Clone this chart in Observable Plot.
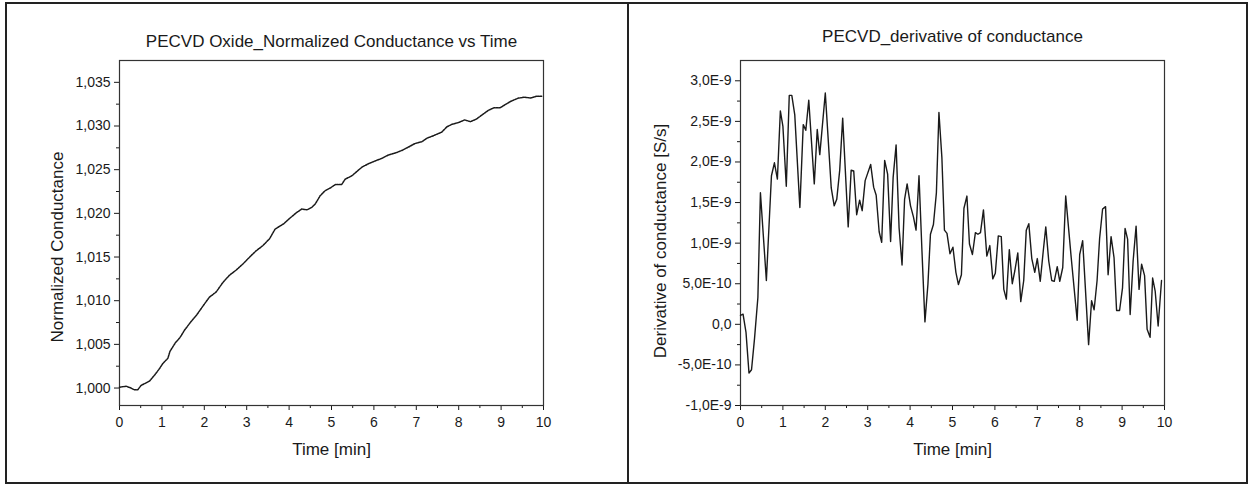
<!DOCTYPE html>
<html><head><meta charset="utf-8">
<script src="https://cdn.jsdelivr.net/npm/d3@7"></script>
<script src="https://cdn.jsdelivr.net/npm/@observablehq/plot@0.6"></script>
<style>
html,body{margin:0;padding:0;background:#fff;}
#wrap{position:relative;width:1249px;height:485px;overflow:hidden;font-family:"Liberation Sans",Arial,sans-serif;}
.panel{position:absolute;top:0;}
.box{position:absolute;border:2px solid #222;box-sizing:border-box;}
</style></head><body>
<div id="wrap">
 <div class="panel" id="left" style="left:0"></div>
 <div class="panel" id="right" style="left:627px"></div>
 <div class="box" style="left:5px;top:2px;width:624px;height:482px"></div>
 <div class="box" style="left:627px;top:2px;width:621px;height:482px"></div>
</div>
<script>
// ---------- data ----------
const leftTitle = "PECVD Oxide_Normalized Conductance vs Time";
const rightTitle = "PECVD_derivative of conductance";
const xLabel = "Time [min]";
const leftYLabel = "Normalized Conductance";
const rightYLabel = "Derivative of conductance [S/s]";

const timeTicks = [0,1,2,3,4,5,6,7,8,9,10];
const timeTickLabels = ["0","1","2","3","4","5","6","7","8","9","10"];
const timeMinor = [0.5,1.5,2.5,3.5,4.5,5.5,6.5,7.5,8.5,9.5];

const condTicks = [1.000,1.005,1.010,1.015,1.020,1.025,1.030,1.035];
const condTickLabels = ["1,000","1,005","1,010","1,015","1,020","1,025","1,030","1,035"];
const condMinor = [1.0025,1.0075,1.0125,1.0175,1.0225,1.0275,1.0325];

const derivTicks = [-1e-9,-5e-10,0,5e-10,1e-9,1.5e-9,2e-9,2.5e-9,3e-9];
const derivTickLabels = ["-1,0E-9","-5,0E-10","0,0","5,0E-10","1,0E-9","1,5E-9","2,0E-9","2,5E-9","3,0E-9"];
const derivMinor = [-7.5e-10,-2.5e-10,2.5e-10,7.5e-10,1.25e-9,1.75e-9,2.25e-9,2.75e-9];

// normalized conductance vs time [min]
const condTime = [0,0.16,0.27,0.35,0.43,0.51,0.59,0.71,0.83,0.94,1.02,1.14,1.19,1.32,1.43,1.53,1.67,1.81,1.97,2.12,2.28,2.44,2.59,2.75,2.91,3.07,3.22,3.38,3.54,3.67,3.87,4.03,4.18,4.30,4.42,4.54,4.62,4.73,4.85,4.97,5.09,5.24,5.32,5.48,5.60,5.72,5.88,6.03,6.19,6.35,6.50,6.66,6.82,6.97,7.13,7.25,7.41,7.60,7.72,7.84,8.0,8.14,8.28,8.42,8.56,8.70,8.84,8.98,9.08,9.22,9.31,9.41,9.55,9.69,9.83,9.97];
const condValue = [1.0001,1.0002,1.0000,0.9998,0.9998,1.0003,1.0005,1.0008,1.0015,1.0022,1.0028,1.0034,1.0042,1.0052,1.0058,1.0066,1.0075,1.0083,1.0094,1.0104,1.0110,1.0121,1.0129,1.0135,1.0142,1.0150,1.0157,1.0163,1.0171,1.0182,1.0188,1.0195,1.0201,1.0205,1.0204,1.0207,1.0211,1.0220,1.0226,1.0229,1.0233,1.0233,1.0239,1.0243,1.0248,1.0253,1.0257,1.0260,1.0263,1.0267,1.0269,1.0272,1.0276,1.0280,1.0282,1.0286,1.0289,1.0293,1.0299,1.0302,1.0304,1.0307,1.0305,1.0308,1.0313,1.0318,1.0321,1.0321,1.0324,1.0328,1.0330,1.0332,1.0333,1.0332,1.0334,1.0334];

// derivative of conductance, in units of 1E-10 S/s
const derivTime = [0,0.06,0.13,0.2,0.26,0.33,0.41,0.47,0.61,0.73,0.80,0.87,0.94,1.0,1.08,1.15,1.21,1.28,1.40,1.48,1.54,1.61,1.74,1.81,1.87,2.0,2.14,2.21,2.27,2.34,2.41,2.54,2.61,2.67,2.74,2.81,2.87,2.94,3.07,3.14,3.2,3.27,3.33,3.40,3.47,3.54,3.60,3.67,3.74,3.81,3.87,3.93,4.01,4.08,4.14,4.21,4.28,4.35,4.42,4.48,4.55,4.62,4.68,4.75,4.81,4.87,4.94,5.01,5.08,5.14,5.21,5.27,5.34,5.40,5.47,5.54,5.60,5.66,5.73,5.81,5.88,5.95,6.01,6.08,6.15,6.21,6.27,6.34,6.41,6.47,6.54,6.61,6.68,6.74,6.80,6.87,6.94,7.0,7.07,7.14,7.20,7.27,7.34,7.40,7.47,7.53,7.60,7.67,7.80,7.94,8.0,8.07,8.21,8.28,8.34,8.41,8.47,8.54,8.61,8.67,8.74,8.81,8.87,8.94,9.01,9.07,9.13,9.19,9.26,9.33,9.40,9.46,9.53,9.59,9.66,9.72,9.78,9.85,9.93];
const derivValue = [1.1,1.25,-1.0,-6.0,-5.6,-1.8,3.3,16.2,5.4,18.3,19.9,17.9,26.3,24.4,17.0,28.2,28.2,25.8,14.4,24.6,23.9,27.6,17.3,24.0,20.9,28.5,16.8,14.6,15.4,19.0,25.4,12.0,19.0,18.9,13.5,15.3,14.0,17.7,19.7,16.9,15.9,11.4,10.1,20.2,18.5,10.2,18.1,22.1,11.9,7.3,15.4,17.3,14.6,13.2,11.6,18.3,9.0,0.3,4.9,11.1,12.3,16.2,26.1,20.5,11.6,11.2,8.7,9.5,6.4,4.9,6.1,14.3,15.8,9.9,8.6,11.3,11.1,11.3,14.1,8.4,9.7,5.6,6.3,10.9,10.8,4.3,3.1,9.2,5.0,6.6,8.8,2.8,5.4,11.6,12.4,8.1,6.4,8.1,5.3,9.0,12.0,7.8,5.4,5.3,7.1,5.3,7.0,15.8,8.2,0.5,8.6,10.3,-2.5,2.9,1.8,5.4,10.6,14.2,14.5,6.1,10.8,8.2,1.7,1.7,4.5,11.8,10.5,1.2,7.8,12.1,4.3,7.4,6.0,-0.6,-1.6,5.7,4.1,-0.2,5.4];
const derivUnit = 1e-10;

// ---------- build ----------
const cond = condTime.map((t,i)=>({t, v: condValue[i]}));
const deriv = derivTime.map((t,i)=>({t, v: derivValue[i]*derivUnit}));
const mapOf = (ks, ls) => new Map(ks.map((k,i)=>[k, ls[i]]));
const timeFmt = mapOf(timeTicks, timeTickLabels);
const condFmt = mapOf(condTicks, condTickLabels);
const derivFmt = mapOf(derivTicks, derivTickLabels);
const FONT = "Liberation Sans, Arial, sans-serif";
const INK = "#1a1a1a";

function commonAxes(yTicks, yFmt, yMinor) {
  return [
    Plot.axisX({ticks: timeTicks, tickSize: 5, tickPadding: 7, tickFormat: d => timeFmt.get(d), label: null, fontSize: 14, stroke: INK}),
    Plot.axisX({ticks: timeMinor, tickSize: 3, tickFormat: () => "", label: null, stroke: INK}),
    Plot.axisY({ticks: yTicks, tickSize: 5, tickPadding: 4, tickFormat: d => yFmt.get(d), label: null, fontSize: 14, stroke: INK}),
    Plot.axisY({ticks: yMinor, tickSize: 3, tickFormat: () => "", label: null, stroke: INK}),
    Plot.frame({stroke: "#333", strokeWidth: 1.2})
  ];
}

const left = Plot.plot({
  width: 627, height: 485,
  marginLeft: 119, marginRight: 84, marginTop: 60, marginBottom: 80,
  style: {fontFamily: FONT, fontSize: "14px", background: "transparent", color: INK, overflow: "visible"},
  x: {domain: [0, 10]},
  y: {domain: [0.998, 1.0375]},
  marks: [
    ...commonAxes(condTicks, condFmt, condMinor),
    Plot.line(cond, {x: "t", y: "v", stroke: INK, strokeWidth: 1.5, strokeDasharray: "1.6,1"}),
    Plot.text([leftTitle], {frameAnchor: "top", dy: -26, fontSize: 17, fill: INK}),
    Plot.text([xLabel], {frameAnchor: "bottom", dy: 49, fontSize: 17, fill: INK}),
    Plot.text([leftYLabel], {frameAnchor: "left", textAnchor: "middle", rotate: -90, dx: -62, dy: 14, fontSize: 17, fill: INK})
  ]
});
document.getElementById("left").append(left);

const right = Plot.plot({
  width: 622, height: 485,
  marginLeft: 113, marginRight: 85, marginTop: 60, marginBottom: 80,
  style: {fontFamily: FONT, fontSize: "14px", background: "transparent", color: INK, overflow: "visible"},
  x: {domain: [0, 10]},
  y: {domain: [-1e-9, 3.25e-9]},
  marks: [
    ...commonAxes(derivTicks, derivFmt, derivMinor),
    Plot.line(deriv, {x: "t", y: "v", stroke: INK, strokeWidth: 1.4}),
    Plot.text([rightTitle], {frameAnchor: "top", dy: -31, fontSize: 17, fill: INK}),
    Plot.text([xLabel], {frameAnchor: "bottom", dy: 49, fontSize: 17, fill: INK}),
    Plot.text([rightYLabel], {frameAnchor: "left", textAnchor: "middle", rotate: -90, dx: -80, dy: 8, fontSize: 17, fill: INK})
  ]
});
document.getElementById("right").append(right);
</script>
</body></html>
